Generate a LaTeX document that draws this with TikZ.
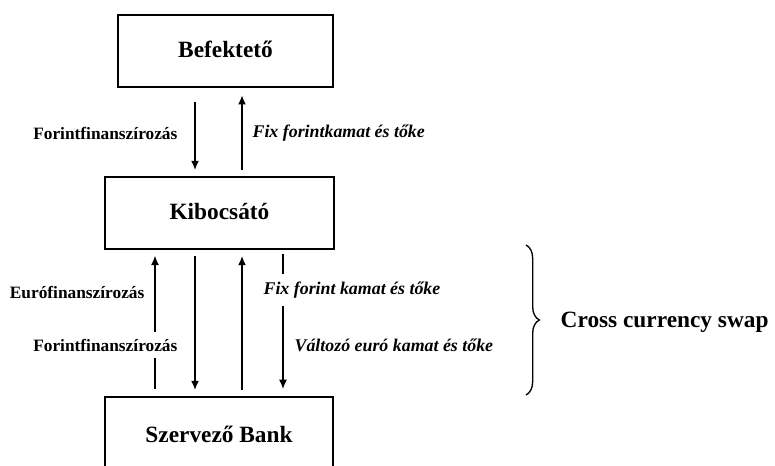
\documentclass[tikz,border=0pt]{standalone}
\usepackage{fontspec}
\setmainfont{Liberation Serif}
\usetikzlibrary{arrows.meta,decorations.pathreplacing,calc}
\begin{document}
\begin{tikzpicture}[x=0.75pt,y=-0.75pt,
  box/.style={draw,line width=2.2pt,minimum width=215*0.75pt,minimum height=72*0.75pt,inner sep=0pt,font=\fontsize{17.5}{19}\selectfont\bfseries},
  lbl/.style={font=\fontsize{13}{14}\selectfont\bfseries,inner sep=1pt},
  ilbl/.style={font=\fontsize{13.4}{14}\selectfont\bfseries\itshape,inner sep=1pt},
  thick arr/.style={line width=1.9pt,-{Latex[length=7pt,width=6pt]}},
  thin arr/.style={line width=0.8pt,-{Latex[length=7pt,width=6pt]}},
]
\useasboundingbox (0,0) rectangle (775,466);
\node[box] (inv) at (225.5,51) {\raisebox{3pt}{Befektető}};
\node[box,minimum width=229*0.75pt] (iss) at (219.5,213) {\raisebox{3pt}{Kibocsátó}};
\node[box,minimum width=228*0.75pt,minimum height=74*0.75pt] (bank) at (219,434) {Szervező Bank};
\coordinate (xa) at (195,0);
\coordinate (xb) at (242,0);
\coordinate (xl) at (155,0);
\coordinate (xr) at (283,0);
% top arrows
\draw[thick arr,shorten <=10pt,shorten >=4pt] (inv.south -| xa) -- (iss.north -| xa);
\draw[thick arr,shorten <=4pt,shorten >=5pt] (iss.north -| xb) -- (inv.south -| xb);
\node[lbl,anchor=east] (l1) at (179,133) {Forintfinanszírozás};
\node[ilbl,anchor=west] (l2) at (251,133) {Fix forintkamat és tőke};
% middle arrows
\draw[thick arr,shorten <=4pt,shorten >=4pt] (iss.south -| xa) -- (bank.north -| xa);
\draw[thick arr,shorten <=4pt,shorten >=4pt] (bank.north -| xb) -- (iss.south -| xb);
\draw[thin arr,shorten <=5pt,shorten >=4pt] (bank.north -| xl) -- (iss.south -| xl);
\draw[thin arr,shorten <=3pt,shorten >=5pt] (iss.south -| xr) -- (bank.north -| xr);
\node[lbl,anchor=east] (l3) at (146,293) {Eurófinanszírozás};
\node[lbl,fill=white,inner ysep=5pt,anchor=east] (l4) at (179,345) {Forintfinanszírozás};
\node[ilbl,fill=white,inner ysep=6pt,anchor=west] (l5) at (262,290) {Fix forint kamat és tőke};
\node[ilbl,anchor=west] (l6) at (293,345) {Változó euró kamat és tőke};
% brace
\coordinate (bt) at (526,245);
\coordinate (bb) at (526,395);
\draw[line width=1pt,decorate,decoration={brace,amplitude=10pt}] (bt) -- (bb);
\node[font=\fontsize{17.5}{19}\selectfont\bfseries,anchor=west] (cs) at (556,322) {Cross currency swap};
\end{tikzpicture}
\end{document}
